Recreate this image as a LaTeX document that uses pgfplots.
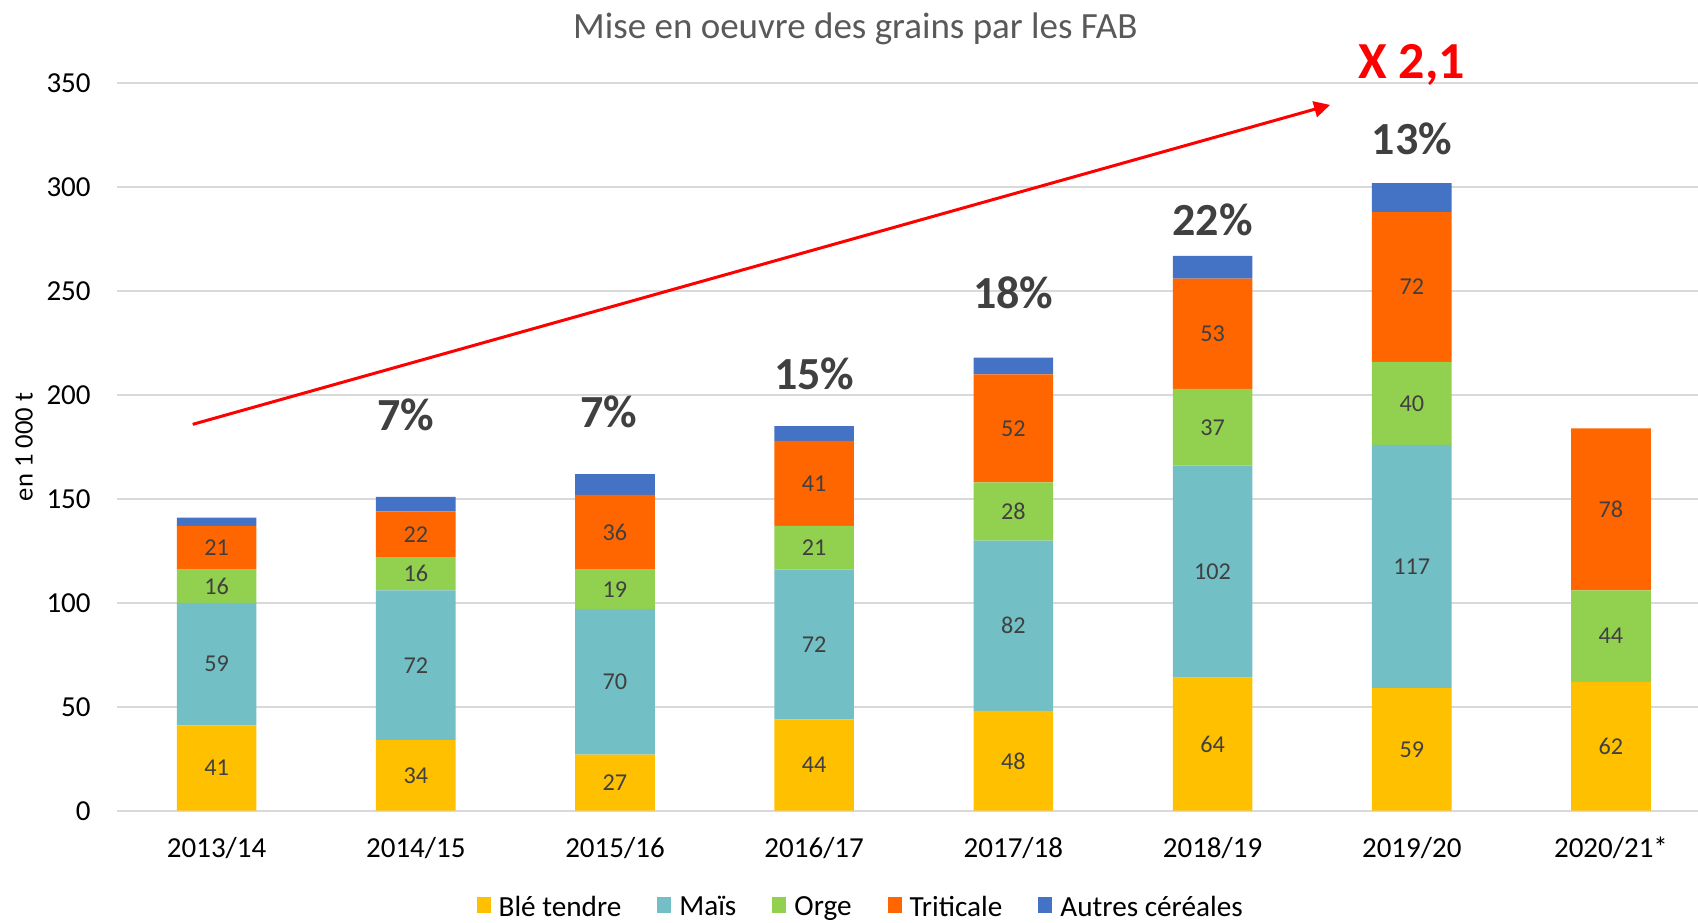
\documentclass[border=0pt]{standalone}
\usepackage{fontspec}
\setmainfont{Carlito}
\usepackage{pgfplots}
\usepackage{pgfplotstable}
\pgfplotsset{compat=1.18}
\usetikzlibrary{arrows.meta}

\definecolor{ble}{HTML}{FFC000}
\definecolor{mais}{HTML}{72BFC5}
\definecolor{orge}{HTML}{92D050}
\definecolor{triti}{HTML}{FF6600}
\definecolor{autres}{HTML}{4472C4}
\definecolor{gridgray}{HTML}{D9D9D9}
\definecolor{titlegray}{HTML}{595959}
\definecolor{labelgray}{HTML}{404040}

\pgfplotstableread{
x y
0 41
1 34
2 27
3 44
4 48
5 64
6 59
7 62
}\tblble
\pgfplotstableread{
x y
0 59
1 72
2 70
3 72
4 82
5 102
6 117
7 0
}\tblmais
\pgfplotstableread{
x y
0 16
1 16
2 19
3 21
4 28
5 37
6 40
7 44
}\tblorge
\pgfplotstableread{
x y
0 21
1 22
2 36
3 41
4 52
5 53
6 72
7 78
}\tbltriti
\pgfplotstableread{
x y
0 4
1 7
2 10
3 7
4 8
5 11
6 14
7 0
}\tblautres
% segment labels, placed at the middle of each segment
\pgfplotstableread{
x mid lab
0 20.5 41
0 70.5 59
0 108 16
0 126.5 21
1 17 34
1 70 72
1 114 16
1 133 22
2 13.5 27
2 62 70
2 106.5 19
2 134 36
3 22 44
3 80 72
3 126.5 21
3 157.5 41
4 24 48
4 89 82
4 144 28
4 184 52
5 32 64
5 115 102
5 184.5 37
5 229.5 53
6 29.5 59
6 117.5 117
6 196 40
6 252 72
7 31 62
7 84 44
7 145 78
}\tbllab

\pgfplotsset{
  sq/.style={legend image code/.code={\fill[##1] (0pt,-3pt) rectangle (7pt,5pt);}},
  common/.style={scale only axis, width=790.5pt, height=363.7pt,
    xmin=-0.5, xmax=7.437, ymin=0, ymax=350, clip=false},
}

\begin{document}
\begin{tikzpicture}
\begin{axis}[
  name=main, common,
  ybar stacked, bar width=39.8pt,
  xtick={0,...,7},
  xticklabels={2013/14,2014/15,2015/16,2016/17,2017/18,2018/19,2019/20,2020/21*},
  ytick={0,50,...,350},
  ymajorgrids, grid style={gridgray, line width=1pt},
  axis line style={draw=none},
  major tick length=0pt,
  tick label style={font=\fontsize{14.5}{17}\selectfont},
  /pgf/number format/assume math mode=true,
  xticklabel style={anchor=center, yshift=-18.5pt},
  yticklabel style={anchor=east, inner sep=0pt, xshift=-13pt},
  ylabel={en 1 000 t},
  ylabel style={at={(axis description cs:-0.0588,0.5)}, anchor=center,
    font=\fontsize{13.3}{16}\selectfont},
  title={Mise en oeuvre des grains par les FAB},
  title style={at={(axis description cs:0.467,1)}, anchor=center, yshift=21pt,
    font=\fontsize{18.5}{22}\selectfont, text=titlegray},
  legend style={at={(axis description cs:0.471,-0.133)}, anchor=center,
    draw=none, legend columns=-1, font=\fontsize{14.6}{17}\selectfont,
    /tikz/every even column/.append style={column sep=16pt},
    /tikz/every odd column/.append style={column sep=2pt}},
]
\addplot[fill=ble, draw=none, sq] table[x=x, y=y]{\tblble};
\addplot[fill=mais, draw=none, sq] table[x=x, y=y]{\tblmais};
\addplot[fill=orge, draw=none, sq] table[x=x, y=y]{\tblorge};
\addplot[fill=triti, draw=none, sq] table[x=x, y=y]{\tbltriti};
\addplot[fill=autres, draw=none, sq] table[x=x, y=y]{\tblautres};
\legend{Blé tendre, Maïs, Orge, Triticale, Autres céréales}
\end{axis}

\begin{axis}[
  common, hide axis,
  at={(main.south west)}, anchor=south west,
]
\addplot[draw=none, nodes near coords, point meta=explicit symbolic,
  every node near coord/.append style={anchor=center,
    font=\fontsize{12.1}{14}\selectfont, text=labelgray}]
  table[x=x, y=mid, meta=lab]{\tbllab};
\node[font=\bfseries\fontsize{23}{27}\selectfont, text=labelgray] at (axis cs:0.95,190.5) {7\%};
\node[font=\bfseries\fontsize{23}{27}\selectfont, text=labelgray] at (axis cs:1.97,192.1) {7\%};
\node[font=\bfseries\fontsize{23}{27}\selectfont, text=labelgray] at (axis cs:3,210.3) {15\%};
\node[font=\bfseries\fontsize{23}{27}\selectfont, text=labelgray] at (axis cs:4,249.4) {18\%};
\node[font=\bfseries\fontsize{23}{27}\selectfont, text=labelgray] at (axis cs:5,284.3) {22\%};
\node[font=\bfseries\fontsize{23}{27}\selectfont, text=labelgray] at (axis cs:6,323.4) {13\%};
\node[font=\bfseries\fontsize{26}{30}\selectfont, text=red] at (axis cs:6,358.9) {X 2,1};
\draw[red, line width=1.5pt, -{Triangle[length=8pt,width=8pt]}]
  (axis cs:-0.12,185.9) -- (axis cs:5.59,339.6);
\end{axis}
\pgfresetboundingbox
\path ([shift={(-58.5pt,-55.65pt)}]main.south west) rectangle ([shift={(0pt,41.65pt)}]main.north east);
\end{tikzpicture}
\end{document}
